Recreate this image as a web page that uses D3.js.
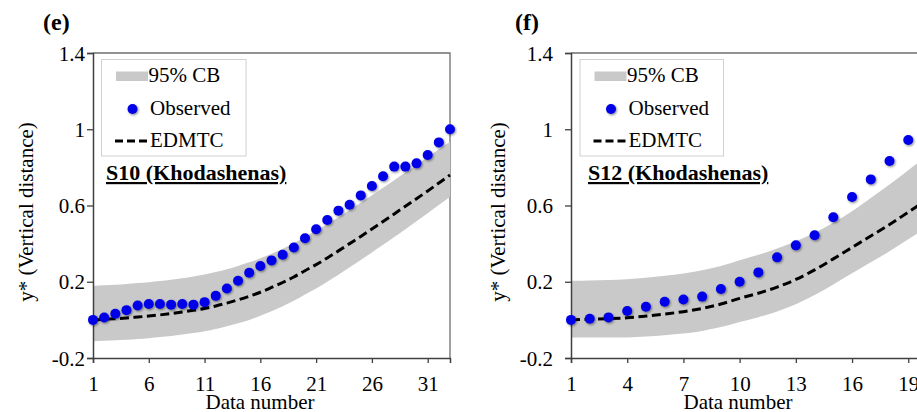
<!DOCTYPE html>
<html>
<head>
<meta charset="utf-8">
<script src="https://cdn.jsdelivr.net/npm/d3@7"></script>
<style>
  html, body { margin: 0; padding: 0; background: #fff; }
  svg { display: block; }
  svg text { font-family: "Liberation Serif", "Times New Roman", "DejaVu Serif", serif !important; fill: #000; }
</style>
</head>
<body>
<svg id="chart" width="917" height="412"></svg>
<script>
// ---------------- DATA ----------------
const yTicks = [-0.2, 0.2, 0.6, 1, 1.4];

// Panel (e): S10 (Khodashenas)
const dataNumberE = [1,2,3,4,5,6,7,8,9,10,11,12,13,14,15,16,17,18,19,20,21,22,23,24,25,26,27,28,29,30,31,32,33];
const xTicksE = [1, 6, 11, 16, 21, 26, 31];
const observedE = [0.0, 0.012, 0.032, 0.051, 0.075, 0.083, 0.083, 0.08, 0.083, 0.08, 0.093, 0.126, 0.165, 0.205, 0.247, 0.283, 0.312, 0.342, 0.38, 0.428, 0.475, 0.524, 0.573, 0.604, 0.653, 0.702, 0.753, 0.804, 0.804, 0.821, 0.865, 0.931, 1.0];
const edmtcE = [0.0, 0.003, 0.006, 0.01, 0.015, 0.02, 0.026, 0.033, 0.041, 0.05, 0.06, 0.073, 0.088, 0.105, 0.124, 0.145, 0.17, 0.196, 0.225, 0.258, 0.29, 0.325, 0.362, 0.4, 0.438, 0.477, 0.516, 0.556, 0.596, 0.636, 0.676, 0.718, 0.76];
const cbUpperE = [0.178, 0.181, 0.184, 0.188, 0.193, 0.198, 0.204, 0.211, 0.219, 0.228, 0.238, 0.251, 0.266, 0.283, 0.302, 0.323, 0.347, 0.373, 0.402, 0.435, 0.467, 0.502, 0.539, 0.577, 0.615, 0.654, 0.693, 0.733, 0.773, 0.813, 0.853, 0.895, 0.935];
const cbLowerE = [-0.112, -0.11, -0.107, -0.104, -0.1, -0.096, -0.09, -0.084, -0.077, -0.069, -0.06, -0.048, -0.034, -0.018, 0.0, 0.021, 0.045, 0.071, 0.1, 0.133, 0.165, 0.2, 0.237, 0.276, 0.314, 0.354, 0.394, 0.435, 0.476, 0.517, 0.559, 0.602, 0.646];

// Panel (f): S12 (Khodashenas)
const dataNumberF = [1,2,3,4,5,6,7,8,9,10,11,12,13,14,15,16,17,18,19,20];
const xTicksF = [1, 4, 7, 10, 13, 16, 19];
const observedF = [0.0, 0.006, 0.013, 0.047, 0.069, 0.095, 0.107, 0.122, 0.162, 0.2, 0.249, 0.328, 0.391, 0.444, 0.538, 0.645, 0.737, 0.833, 0.944, 1.0];
const edmtcF = [0.0, 0.003, 0.006, 0.011, 0.02, 0.031, 0.043, 0.06, 0.083, 0.113, 0.14, 0.172, 0.212, 0.262, 0.32, 0.38, 0.44, 0.5, 0.565, 0.63];
const cbUpperF = [0.205, 0.207, 0.209, 0.213, 0.221, 0.231, 0.243, 0.26, 0.283, 0.313, 0.341, 0.374, 0.412, 0.457, 0.51, 0.57, 0.64, 0.71, 0.785, 0.86];
const cbLowerF = [-0.092, -0.092, -0.093, -0.092, -0.087, -0.08, -0.072, -0.058, -0.038, -0.011, 0.014, 0.044, 0.082, 0.13, 0.186, 0.244, 0.302, 0.36, 0.423, 0.486];

const legendLabels = ["95% CB", "Observed", "EDMTC"];

// ---------------- LAYOUT ----------------
const svg = d3.select("#chart");
const defs = svg.append("defs");
const shadow = defs.append("filter").attr("id", "dotShadow")
  .attr("x", "-50%").attr("y", "-50%").attr("width", "200%").attr("height", "200%");
shadow.append("feDropShadow").attr("dx", 1).attr("dy", 1.2).attr("stdDeviation", 0.9)
  .attr("flood-color", "#000").attr("flood-opacity", 0.45);

const FONT = 21;
const BAND = "#c9c9c9";
const DOT = "#0000e8";
const R = 5;

const panels = [
  { tag: "(e)", title: "S10 (Khodashenas)", n: dataNumberE, xTicks: xTicksE,
    obs: observedE, fit: edmtcE, up: cbUpperE, lo: cbLowerE,
    left: 93, right: 450, tickPad: 2, tagX: 43, yTitleX: 26, xTitleX: 260,
    legend: { x: 101.5, w: 144.5 }, titleX: 106 },
  { tag: "(f)", title: "S12 (Khodashenas)", n: dataNumberF, xTicks: xTicksF,
    obs: observedF, fit: edmtcF, up: cbUpperF, lo: cbLowerF,
    left: 571, right: 927, tickPad: 12, tagX: 515, yTitleX: 498, xTitleX: 738,
    legend: { x: 580, w: 143.5 }, titleX: 588 }
];

const plotTop = 53, plotBottom = 358;

panels.forEach(p => {
  const g = svg.append("g");
  const x = d3.scaleLinear().domain([p.n[0], p.n[p.n.length - 1]]).range([p.left, p.right]);
  const y = d3.scaleLinear().domain([-0.2, 1.4]).range([plotBottom, plotTop]);

  // plot-area frame (top & right)
  g.append("path")
    .attr("d", `M${p.left},${plotTop}H${p.right}V${plotBottom}`)
    .attr("fill", "none").attr("stroke", "#6f6f6f").attr("stroke-width", 1.3);

  // confidence band
  const area = d3.area()
    .x((d, i) => x(p.n[i]))
    .y0((d, i) => y(p.lo[i]))
    .y1((d, i) => y(p.up[i]))
    .curve(d3.curveMonotoneX);
  g.append("path").datum(p.up).attr("d", area).attr("fill", BAND);

  // axes
  const yAxis = d3.axisLeft(y).tickValues(yTicks).tickSize(6).tickPadding(p.tickPad)
    .tickFormat(d => String(+d.toFixed(1)));
  const ya = g.append("g").attr("transform", `translate(${p.left},0)`).call(yAxis);
  ya.attr("font-family", null);
  ya.selectAll("text").attr("font-size", FONT).attr("dy", "0.34em").attr("fill", "#000");

  const xAxis = d3.axisBottom(x).tickValues(p.xTicks).tickSize(5).tickPadding(13)
    .tickFormat(d3.format("d"));
  const xa = g.append("g").attr("transform", `translate(0,${plotBottom})`).call(xAxis);
  xa.attr("font-family", null);
  xa.selectAll("text").attr("font-size", FONT).attr("fill", "#000");

  [ya, xa].forEach(a => {
    a.select(".domain").attr("stroke", "#404040").attr("stroke-width", 1.5);
    a.selectAll(".tick line").attr("stroke", "#404040").attr("stroke-width", 1.3);
  });

  // fitted EDMTC curve
  const line = d3.line()
    .x((d, i) => x(p.n[i]))
    .y(d => y(d))
    .curve(d3.curveMonotoneX);
  g.append("path").datum(p.fit).attr("d", line)
    .attr("fill", "none").attr("stroke", "#000").attr("stroke-width", 3)
    .attr("stroke-dasharray", "9,4.5");

  // observed points
  g.append("g").selectAll("circle").data(p.obs).join("circle")
    .attr("cx", (d, i) => x(p.n[i]))
    .attr("cy", d => y(d))
    .attr("r", R)
    .attr("fill", DOT)
    .attr("filter", "url(#dotShadow)");

  // panel tag
  g.append("text").attr("x", p.tagX).attr("y", 29.5)
    .attr("font-size", 24).attr("font-weight", "bold").text(p.tag);

  // axis titles
  g.append("text")
    .attr("transform", `translate(${p.yTitleX},212) rotate(-90)`)
    .attr("text-anchor", "middle").attr("dy", "0.35em")
    .attr("font-size", FONT).text("y* (Vertical distance)");
  g.append("text").attr("x", p.xTitleX).attr("y", 409)
    .attr("text-anchor", "middle").attr("font-size", FONT).text("Data number");

  // legend
  const L = g.append("g");
  L.append("rect").attr("x", p.legend.x).attr("y", 59.5)
    .attr("width", p.legend.w).attr("height", 96.5)
    .attr("fill", "#fff").attr("stroke", "#d0d0d0").attr("stroke-width", 1);
  const lx = p.legend.x;
  L.append("rect").attr("x", lx + 14.5).attr("y", 71.5).attr("width", 32).attr("height", 9.5).attr("fill", BAND);
  L.append("text").attr("x", lx + 47).attr("y", 81.5).attr("font-size", FONT).text(legendLabels[0]);
  L.append("circle").attr("cx", lx + 31).attr("cy", 109).attr("r", R).attr("fill", DOT)
    .attr("filter", "url(#dotShadow)");
  L.append("text").attr("x", lx + 48.5).attr("y", 115).attr("font-size", FONT).text(legendLabels[1]);
  L.append("line").attr("x1", lx + 13.5).attr("x2", lx + 48).attr("y1", 141).attr("y2", 141)
    .attr("stroke", "#000").attr("stroke-width", 3).attr("stroke-dasharray", "8,4");
  L.append("text").attr("x", lx + 48.5).attr("y", 146.5).attr("font-size", FONT).text(legendLabels[2]);

  // series title (bold, underlined)
  g.append("text").attr("x", p.titleX).attr("y", 180)
    .attr("font-size", 22).attr("font-weight", "bold")
    .attr("text-decoration", "underline").text(p.title);
});
</script>
</body>
</html>
